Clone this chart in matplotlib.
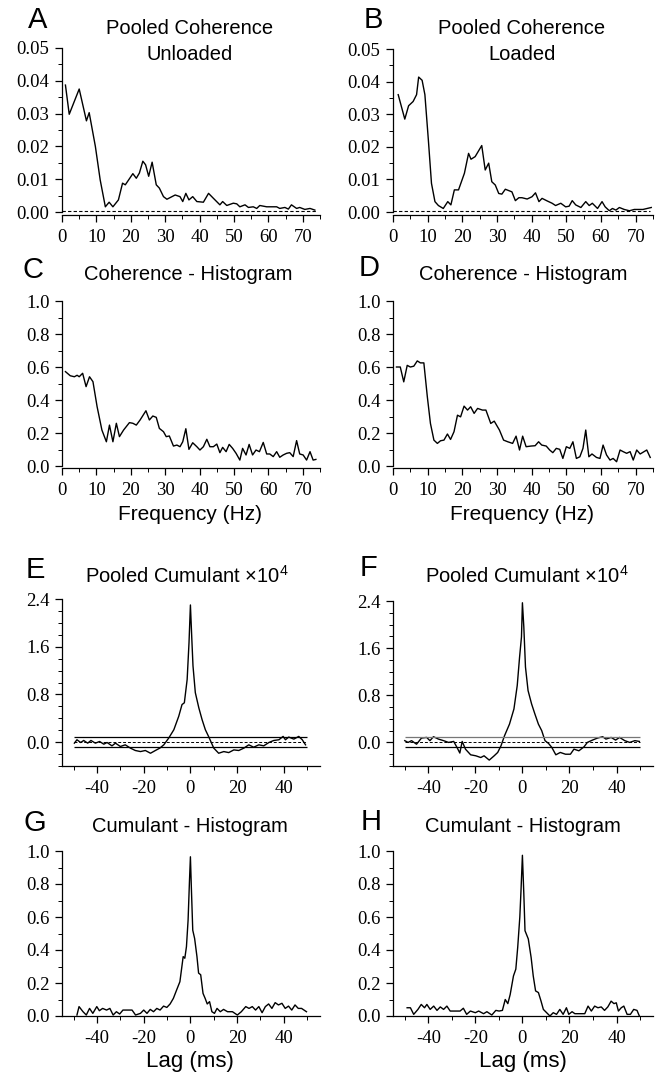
import matplotlib

matplotlib.use("Agg")
import matplotlib.pyplot as plt
from matplotlib.ticker import FormatStrFormatter, MultipleLocator


W, H = 662, 1072
SERIF = "Liberation Serif"
SANS = "Liberation Sans"

# --- pooled coherence (A unloaded, B loaded) ---
a_freq = [1.0, 2.1, 5.0, 7.1, 7.9, 9.7, 11.1, 12.6, 13.7, 14.8, 16.4, 17.6, 18.4, 20.6, 21.6, 22.5,
          23.5, 24.3, 25.2, 26.2, 27.4, 28.3, 29.5, 30.5, 32.9, 34.3, 35.1, 36.0, 36.9, 38.0, 39.2,
          41.1, 42.6, 44.0, 45.9, 46.7, 47.9, 49.8, 50.8, 51.7, 53.2, 54.2, 55.6, 56.6, 57.5, 59.5,
          62.4, 63.3, 64.8, 65.8, 66.7, 68.2, 69.1, 70.6, 72.1, 73.5]
a_coh = [0.0387, 0.0298, 0.0375, 0.0278, 0.0303, 0.0200, 0.0098, 0.0016, 0.0030, 0.0016, 0.0037,
         0.0088, 0.0083, 0.0117, 0.0103, 0.0119, 0.0155, 0.0144, 0.0109, 0.0152, 0.0083, 0.0073,
         0.0047, 0.0039, 0.0052, 0.0047, 0.0032, 0.0057, 0.0037, 0.0047, 0.0032, 0.0030, 0.0057,
         0.0042, 0.0022, 0.0032, 0.0020, 0.0027, 0.0025, 0.0016, 0.0022, 0.0014, 0.0016, 0.0011,
         0.0020, 0.0016, 0.0016, 0.0011, 0.0014, 0.0009, 0.0022, 0.0011, 0.0014, 0.0008, 0.0011,
         0.0006]
b_freq = [1.5, 3.4, 4.5, 5.8, 6.8, 7.4, 8.4, 9.2, 10.2, 11.1, 12.1, 13.1, 14.5, 15.8, 16.7, 17.7,
          18.9, 20.6, 21.8, 22.5, 23.7, 25.6, 26.6, 27.6, 28.5, 29.5, 30.5, 31.4, 32.4, 34.3, 35.3,
          36.3, 37.2, 38.7, 40.1, 41.1, 42.1, 43.0, 44.5, 45.9, 46.9, 48.4, 49.8, 50.8, 51.7, 52.7,
          54.2, 55.6, 56.6, 57.5, 59.0, 60.3, 61.2, 62.4, 63.3, 64.3, 65.3, 66.7, 68.2, 69.6, 72.1,
          74.5]
b_coh = [0.0360, 0.0285, 0.0326, 0.0339, 0.0360, 0.0414, 0.0404, 0.0360, 0.0221, 0.0088, 0.0032,
         0.0020, 0.0011, 0.0032, 0.0022, 0.0068, 0.0068, 0.0119, 0.0180, 0.0162, 0.0170, 0.0204,
         0.0129, 0.0150, 0.0093, 0.0083, 0.0057, 0.0055, 0.0070, 0.0062, 0.0035, 0.0044, 0.0044,
         0.0040, 0.0047, 0.0059, 0.0032, 0.0042, 0.0034, 0.0027, 0.0020, 0.0027, 0.0016, 0.0018,
         0.0035, 0.0022, 0.0014, 0.0032, 0.0020, 0.0027, 0.0011, 0.0032, 0.0016, 0.0004, 0.0011,
         0.0006, 0.0014, 0.0008, 0.0004, 0.0008, 0.0008, 0.0014]
coh_level = 0.0004

# --- coherence histograms (C, D) ---
c_freq = [1.0, 2.4, 3.6, 4.4, 5.0, 6.0, 7.0, 8.0, 9.0, 10.2, 11.6, 12.9, 13.8, 14.8, 15.8, 16.7,
          17.9, 19.6, 20.6, 21.6, 22.7, 24.4, 25.4, 26.4, 27.4, 28.3, 29.5, 30.3, 31.2, 32.4, 33.4,
          34.3, 35.1, 36.0, 36.9, 38.0, 39.2, 40.1, 41.1, 42.1, 43.0, 44.0, 45.0, 45.9, 46.7, 47.7,
          48.6, 49.6, 50.6, 51.7, 52.5, 53.5, 54.4, 55.4, 56.4, 57.4, 58.5, 59.5, 60.4, 61.4, 62.4,
          63.3, 64.3, 65.3, 66.2, 67.2, 68.2, 69.1, 70.1, 71.1, 72.1, 73.0, 73.8]
c_hist = [0.572, 0.547, 0.541, 0.550, 0.541, 0.562, 0.481, 0.541, 0.511, 0.360, 0.218, 0.147, 0.248,
          0.147, 0.259, 0.178, 0.218, 0.263, 0.259, 0.248, 0.279, 0.335, 0.279, 0.303, 0.295, 0.228,
          0.208, 0.178, 0.182, 0.121, 0.127, 0.117, 0.147, 0.226, 0.101, 0.141, 0.117, 0.097, 0.117,
          0.162, 0.117, 0.117, 0.133, 0.081, 0.113, 0.087, 0.131, 0.107, 0.077, 0.036, 0.107, 0.067,
          0.131, 0.067, 0.097, 0.087, 0.143, 0.073, 0.073, 0.057, 0.087, 0.053, 0.067, 0.077, 0.081,
          0.057, 0.154, 0.073, 0.067, 0.036, 0.087, 0.036, 0.040]
d_freq = [1.0, 2.1, 3.1, 4.1, 5.0, 6.0, 7.0, 7.9, 8.9, 9.9, 10.8, 11.8, 12.8, 13.7, 14.7, 15.7, 16.6,
          17.6, 18.6, 19.5, 20.5, 21.5, 22.4, 23.4, 24.4, 25.8, 26.8, 28.2, 29.2, 30.7, 31.9, 33.1,
          34.5, 35.5, 36.5, 37.4, 38.4, 39.8, 41.0, 42.0, 42.9, 44.2, 45.2, 46.1, 47.1, 48.1, 49.0,
          50.0, 51.0, 51.9, 52.9, 53.9, 54.8, 55.6, 56.5, 57.4, 58.7, 59.7, 60.6, 61.6, 62.6, 63.5,
          64.5, 65.5, 66.4, 67.4, 68.4, 69.3, 70.3, 71.3, 73.2, 74.2]
d_hist = [0.600, 0.600, 0.510, 0.610, 0.600, 0.605, 0.637, 0.625, 0.625, 0.420, 0.258, 0.157, 0.137,
          0.153, 0.157, 0.194, 0.161, 0.208, 0.308, 0.298, 0.363, 0.339, 0.359, 0.319, 0.349, 0.339,
          0.339, 0.258, 0.272, 0.218, 0.157, 0.147, 0.137, 0.181, 0.097, 0.181, 0.117, 0.121, 0.123,
          0.147, 0.127, 0.121, 0.097, 0.081, 0.107, 0.101, 0.046, 0.117, 0.107, 0.147, 0.046, 0.056,
          0.107, 0.218, 0.056, 0.073, 0.052, 0.046, 0.127, 0.067, 0.036, 0.046, 0.026, 0.097, 0.087,
          0.077, 0.087, 0.036, 0.097, 0.073, 0.097, 0.052]

# --- pooled cumulants x 1e4 (E, F) ---
e_lag = [-49.7, -48.6, -47.0, -45.7, -44.0, -42.6, -40.7, -38.9, -37.1, -35.7, -33.6, -32.1, -30.0,
         -27.9, -25.7, -23.6, -21.4, -19.3, -17.1, -15.0, -13.1, -11.4, -9.3, -7.1, -5.0, -3.6, -2.6,
         -1.4, -0.6, 0.0, 0.6, 1.1, 2.1, 3.6, 5.0, 6.4, 7.9, 10.0, 12.1, 14.3, 16.4, 18.6, 20.7, 22.9,
         25.0, 27.1, 29.3, 31.4, 33.6, 35.7, 37.9, 39.7, 40.7, 42.1, 44.3, 46.4, 47.9, 49.3]
e_cum = [-0.017, 0.040, -0.006, 0.028, -0.017, 0.028, -0.017, 0.011, -0.034, -0.006, -0.062, -0.017,
         -0.073, -0.045, -0.100, -0.140, -0.158, -0.140, -0.186, -0.140, -0.100, -0.045, 0.068, 0.208,
         0.434, 0.630, 0.660, 1.050, 1.670, 2.300, 1.730, 1.280, 0.830, 0.575, 0.377, 0.208, 0.085,
         -0.100, -0.186, -0.158, -0.175, -0.130, -0.140, -0.100, -0.045, -0.085, -0.045, -0.062,
         -0.006, 0.028, 0.040, 0.096, 0.040, 0.085, 0.051, 0.096, 0.040, -0.045]
e_limits = [0.085, -0.075]
f_lag = [-50.0, -48.6, -47.1, -45.0, -42.9, -40.7, -39.3, -37.8, -35.7, -33.5, -31.4, -29.2, -27.8,
         -26.6, -25.6, -24.2, -22.0, -19.8, -17.7, -16.3, -14.1, -12.0, -10.5, -9.1, -7.6, -5.5, -3.6,
         -2.2, -1.2, -0.4, 0.0, 0.6, 1.3, 2.4, 3.9, 5.3, 6.8, 8.2, 9.6, 11.1, 12.5, 14.2, 16.1, 18.3,
         20.4, 21.9, 24.0, 26.2, 27.6, 29.8, 31.9, 34.1, 35.5, 37.7, 39.6, 41.3, 43.5, 45.6, 47.8, 49.7]
f_cum = [0.030, 0.000, 0.030, -0.030, 0.074, 0.085, 0.030, 0.097, 0.057, 0.030, 0.000, 0.017, -0.085,
         -0.180, 0.017, -0.114, -0.210, -0.227, -0.256, -0.227, -0.300, -0.227, -0.170, -0.057, 0.114,
         0.310, 0.568, 0.966, 1.450, 1.790, 2.370, 1.960, 1.280, 0.880, 0.653, 0.483, 0.310, 0.200,
         0.030, -0.017, -0.085, -0.210, -0.170, -0.200, -0.200, -0.114, -0.142, -0.074, 0.000, 0.040,
         0.074, 0.097, 0.057, 0.085, 0.040, 0.085, 0.030, 0.000, 0.030, 0.017]
f_limits = [0.100, -0.085]

# --- cumulant histograms (G, H) ---
g_lag = [-48.6, -47.7, -46.0, -44.6, -43.2, -41.8, -40.1, -39.0, -37.6, -35.9, -34.5, -33.1, -31.7,
         -30.3, -28.9, -25.0, -23.5, -21.4, -20.0, -18.6, -17.2, -15.8, -14.4, -13.0, -11.5, -10.1,
         -8.7, -7.3, -5.9, -4.5, -3.1, -2.4, -1.7, -1.0, -0.4, 0.0, 0.4, 1.0, 1.8, 2.8, 3.5, 4.4, 5.4,
         6.3, 7.2, 8.2, 9.2, 10.3, 11.4, 12.8, 14.2, 15.9, 18.0, 20.1, 21.8, 23.7, 25.1, 26.5, 27.9,
         29.3, 30.7, 32.1, 33.5, 34.9, 36.3, 37.7, 39.2, 40.6, 42.0, 43.4, 44.8, 46.2, 47.6, 49.7]
g_hist = [0.006, 0.057, 0.026, 0.006, 0.046, 0.016, 0.057, 0.032, 0.046, 0.036, 0.046, 0.006, 0.026,
          0.012, 0.036, 0.036, 0.006, 0.016, 0.036, 0.016, 0.040, 0.026, 0.046, 0.036, 0.060, 0.052,
          0.073, 0.107, 0.158, 0.208, 0.360, 0.350, 0.420, 0.580, 0.820, 0.965, 0.780, 0.520, 0.470,
          0.360, 0.260, 0.250, 0.137, 0.107, 0.073, 0.087, 0.026, 0.016, 0.046, 0.026, 0.040, 0.026,
          0.026, 0.006, 0.026, 0.057, 0.046, 0.057, 0.036, 0.057, 0.020, 0.057, 0.073, 0.046, 0.081,
          0.067, 0.077, 0.046, 0.060, 0.036, 0.067, 0.046, 0.046, 0.026]
h_lag = [-49.0, -47.6, -46.2, -44.4, -43.0, -41.6, -40.6, -39.2, -37.7, -36.3, -34.9, -33.5, -32.1,
         -30.7, -26.5, -25.1, -23.7, -22.1, -20.0, -18.6, -16.5, -15.1, -13.0, -11.3, -9.9, -8.5, -7.3,
         -6.2, -5.2, -3.8, -2.8, -2.0, -1.1, -0.6, 0.0, 0.6, 1.1, 2.5, 3.7, 4.6, 5.6, 6.8, 7.9, 8.9,
         10.3, 11.7, 13.1, 14.5, 15.9, 17.3, 18.7, 19.7, 21.1, 22.3, 26.5, 27.9, 29.3, 30.7, 32.1,
         33.5, 34.9, 36.3, 37.7, 38.9, 39.9, 40.8, 42.0, 43.1, 44.5, 45.9, 47.3, 48.7, 49.7]
h_hist = [0.050, 0.050, 0.010, 0.040, 0.070, 0.050, 0.070, 0.040, 0.060, 0.034, 0.055, 0.040, 0.060,
          0.030, 0.030, 0.047, 0.010, 0.030, 0.020, 0.030, 0.014, 0.026, 0.006, 0.034, 0.030, 0.034,
          0.100, 0.075, 0.130, 0.243, 0.284, 0.416, 0.600, 0.760, 0.974, 0.740, 0.517, 0.467, 0.355,
          0.243, 0.152, 0.142, 0.091, 0.040, 0.020, 0.000, 0.020, 0.010, 0.040, 0.010, 0.050, 0.010,
          0.026, 0.014, 0.014, 0.060, 0.030, 0.060, 0.050, 0.055, 0.034, 0.055, 0.090, 0.075, 0.080,
          0.030, 0.050, 0.060, 0.010, 0.010, 0.040, 0.034, 0.000]

LEFT = (62, 320)
RIGHT = (393, 653)


def add_axes(fig, xs, ytop, ybot):
    x0, x1 = xs
    return fig.add_axes([x0 / W, 1 - ybot / H, (x1 - x0) / W, (ybot - ytop) / H])


def put_text(fig, x, y, text, size):
    fig.text(x / W, 1 - y / H, text, fontsize=size, family=SANS, ha="center", va="center")


def style(ax, xlim, ylim, xmaj, xmin, ymaj, ymin, yfmt, ybounds):
    for side in ["top", "right"]:
        ax.spines[side].set_visible(False)
    for side in ["left", "bottom"]:
        ax.spines[side].set_linewidth(0.9)
    ax.spines["left"].set_bounds(*ybounds)
    ax.set_xlim(*xlim)
    ax.set_ylim(*ylim)
    ax.xaxis.set_major_locator(MultipleLocator(xmaj))
    ax.xaxis.set_minor_locator(MultipleLocator(xmin))
    ax.set_yticks(ymaj)
    ax.yaxis.set_minor_locator(MultipleLocator(ymin))
    ax.yaxis.set_major_formatter(FormatStrFormatter(yfmt))
    ax.xaxis.set_major_formatter(FormatStrFormatter("%d"))
    ax.tick_params(which="major", direction="out", length=5, width=0.9, labelsize=13.5, pad=4)
    ax.tick_params(which="minor", direction="out", length=3, width=0.7)
    ax.tick_params(axis="x", which="major", pad=5)


def main() -> None:
    plt.rcParams["font.family"] = SERIF
    plt.rcParams["axes.unicode_minus"] = False
    plt.rcParams["mathtext.fontset"] = "custom"
    plt.rcParams["mathtext.rm"] = SANS
    plt.rcParams["mathtext.it"] = SANS

    fig = plt.figure(figsize=(W / 100, H / 100), dpi=100)
    line_kw = dict(color="black", lw=1.0)

    # row 1: pooled coherence
    coh_ticks = [0.0, 0.01, 0.02, 0.03, 0.04, 0.05]
    for xs, ytop, freq, coh in [(LEFT, 48, a_freq, a_coh), (RIGHT, 49, b_freq, b_coh)]:
        ax = add_axes(fig, xs, ytop, 215)
        ax.plot(freq, coh, **line_kw)
        ax.hlines(coh_level, 0, 74, colors="black", lw=0.8, linestyles=(0, (3, 2)))
        style(ax, (0, 75), (-0.0009, 0.05), 10, 5, coh_ticks, 0.005, "%.2f", (0, 0.05))

    # row 2: coherence histograms
    unit_ticks = [0.0, 0.2, 0.4, 0.6, 0.8, 1.0]
    for xs, freq, hist in [(LEFT, c_freq, c_hist), (RIGHT, d_freq, d_hist)]:
        ax = add_axes(fig, xs, 301, 468)
        ax.plot(freq, hist, **line_kw)
        style(ax, (0, 75), (-0.012, 1.0), 10, 5, unit_ticks, 0.1, "%.1f", (0, 1.0))

    # row 3: pooled cumulants
    cum_ticks = [0.0, 0.8, 1.6, 2.4]
    for xs, ytop, lag, cum, lims, upper_col in [(LEFT, 599, e_lag, e_cum, e_limits, "black"),
                                                (RIGHT, 601, f_lag, f_cum, f_limits, "#777777")]:
        ax = add_axes(fig, xs, ytop, 766)
        ax.plot(lag, cum, **line_kw)
        ax.hlines(lims[0], -50, 50, colors=upper_col, lw=0.9)
        ax.hlines(lims[1], -50, 50, colors="black", lw=0.9)
        ax.hlines(0, -50, 50, colors="black", lw=0.7, linestyles=(0, (3, 2)))
        style(ax, (-55, 55.5), (-0.4, 2.4), 20, 10, cum_ticks, 0.2, "%.1f", (-0.4, 2.4))

    # row 4: cumulant histograms
    for xs, lag, hist in [(LEFT, g_lag, g_hist), (RIGHT, h_lag, h_hist)]:
        ax = add_axes(fig, xs, 851, 1016)
        ax.plot(lag, hist, **line_kw)
        style(ax, (-55, 55.5), (0, 1.0), 20, 10, unit_ticks, 0.1, "%.1f", (0, 1.0))

    # panel letters
    for letter, x, y in [("A", 38, 20), ("B", 373, 20), ("C", 33, 270), ("D", 369, 268),
                         ("E", 35, 570), ("F", 369, 568), ("G", 35, 823), ("H", 371, 822)]:
        put_text(fig, x, y, letter, 21)

    # titles
    put_text(fig, 190, 28, "Pooled Coherence", 14.5)
    put_text(fig, 190, 55, "Unloaded", 14.5)
    put_text(fig, 522, 28, "Pooled Coherence", 14.5)
    put_text(fig, 522, 55, "Loaded", 14.5)
    put_text(fig, 188, 275, "Coherence - Histogram", 14.5)
    put_text(fig, 523, 275, "Coherence - Histogram", 14.5)
    put_text(fig, 187, 576, "Pooled Cumulant \u00d7$10^{4}$", 14.5)
    put_text(fig, 527, 576, "Pooled Cumulant \u00d7$10^{4}$", 14.5)
    put_text(fig, 190, 827, "Cumulant - Histogram", 14.5)
    put_text(fig, 523, 827, "Cumulant - Histogram", 14.5)

    # axis labels
    put_text(fig, 190, 515, "Frequency (Hz)", 15)
    put_text(fig, 522, 515, "Frequency (Hz)", 15)
    put_text(fig, 190, 1062, "Lag (ms)", 16)
    put_text(fig, 523, 1062, "Lag (ms)", 16)

    fig.savefig("out.png", dpi=100)
    plt.close(fig)


if __name__ == "__main__":
    main()
